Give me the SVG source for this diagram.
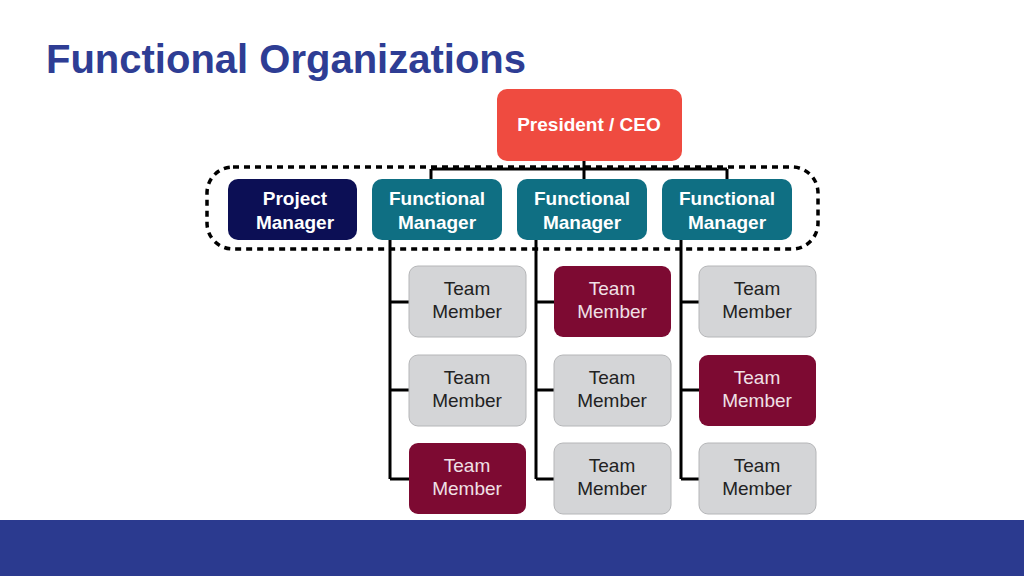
<svg xmlns="http://www.w3.org/2000/svg" width="1024" height="576" viewBox="0 0 1024 576">
<style>
text{font-family:"Liberation Sans",Arial,sans-serif;text-anchor:middle}
.b{font-weight:bold;fill:#fff;font-size:19px}
.t{font-size:19px}
.g rect{fill:#d4d5d7;stroke:#b5b6b8;stroke-width:1}
.g text{fill:#222}
.r rect{fill:#7d0a32}
.r text{fill:#f0e0e6}
.fm rect{fill:#0f6f83}
.ln{stroke:#000;stroke-width:3;fill:none}
</style>
<rect width="1024" height="576" fill="#fff"/>
<text x="46" y="73" style="text-anchor:start;font-weight:bold;font-size:40px;fill:#2e3d94">Functional Organizations</text>
<rect x="0" y="520" width="1024" height="56" fill="#2b3a8f"/>
<g id="connectors" class="ln">
<path d="M584 161V169M431 169H727M431 169V180M584 169V180M727 169V180"/>
<path d="M390 240V479M390 302H409M390 390H409M390 479H409"/>
<path d="M536 240V479M536 302H554M536 390H554M536 479H554"/>
<path d="M681 240V479M681 302H699M681 390H699M681 479H699"/>
</g>
<rect id="group" x="207" y="167" width="611" height="82" rx="26" fill="none" stroke="#000" stroke-width="3.5" stroke-dasharray="6 5"/>
<g id="ceo"><rect x="497" y="89" width="185" height="72" rx="10" fill="#ef4b40"/><text class="b" x="589" y="131">President / CEO</text></g>
<g id="pm"><rect x="228" y="179" width="129" height="61" rx="10" fill="#0c0f55"/><text class="b" x="295" y="205">Project</text><text class="b" x="295" y="229">Manager</text></g>
<g id="fm1" class="fm"><rect x="372" y="179" width="130" height="61" rx="10"/><text class="b" x="437" y="205">Functional</text><text class="b" x="437" y="229">Manager</text></g>
<g id="fm2" class="fm"><rect x="517" y="179" width="130" height="61" rx="10"/><text class="b" x="582" y="205">Functional</text><text class="b" x="582" y="229">Manager</text></g>
<g id="fm3" class="fm"><rect x="662" y="179" width="130" height="61" rx="10"/><text class="b" x="727" y="205">Functional</text><text class="b" x="727" y="229">Manager</text></g>
<g id="t11" class="g"><rect x="409" y="266" width="117" height="71" rx="9"/><text class="t" x="467" y="295">Team</text><text class="t" x="467" y="318">Member</text></g>
<g id="t12" class="g"><rect x="409" y="355" width="117" height="71" rx="9"/><text class="t" x="467" y="384">Team</text><text class="t" x="467" y="407">Member</text></g>
<g id="t13" class="r"><rect x="409" y="443" width="117" height="71" rx="9"/><text class="t" x="467" y="472">Team</text><text class="t" x="467" y="495">Member</text></g>
<g id="t21" class="r"><rect x="554" y="266" width="117" height="71" rx="9"/><text class="t" x="612" y="295">Team</text><text class="t" x="612" y="318">Member</text></g>
<g id="t22" class="g"><rect x="554" y="355" width="117" height="71" rx="9"/><text class="t" x="612" y="384">Team</text><text class="t" x="612" y="407">Member</text></g>
<g id="t23" class="g"><rect x="554" y="443" width="117" height="71" rx="9"/><text class="t" x="612" y="472">Team</text><text class="t" x="612" y="495">Member</text></g>
<g id="t31" class="g"><rect x="699" y="266" width="117" height="71" rx="9"/><text class="t" x="757" y="295">Team</text><text class="t" x="757" y="318">Member</text></g>
<g id="t32" class="r"><rect x="699" y="355" width="117" height="71" rx="9"/><text class="t" x="757" y="384">Team</text><text class="t" x="757" y="407">Member</text></g>
<g id="t33" class="g"><rect x="699" y="443" width="117" height="71" rx="9"/><text class="t" x="757" y="472">Team</text><text class="t" x="757" y="495">Member</text></g>
</svg>
